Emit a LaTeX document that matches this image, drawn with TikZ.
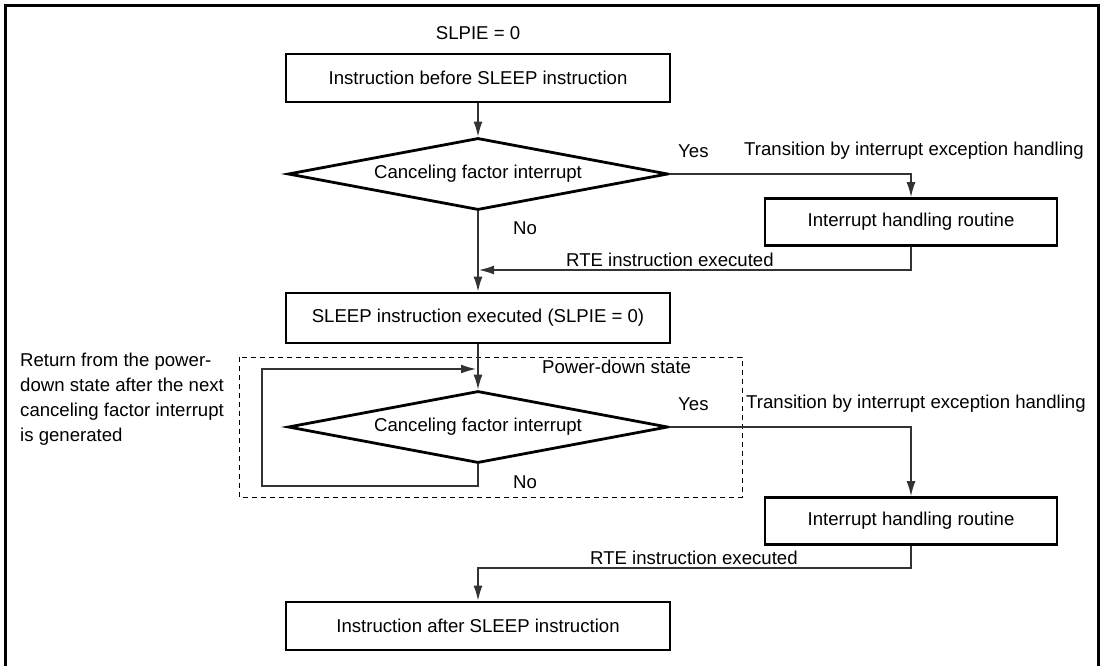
\documentclass[tikz,border=0pt]{standalone}
\usepackage{fontspec}
\setmainfont{Liberation Sans}
\usetikzlibrary{shapes.geometric,arrows.meta}

\tikzset{
  stepbox/.style={draw, line width=2.8pt, minimum width=384pt, minimum height=48pt, inner sep=0pt},
  irqbox/.style={draw, line width=2.8pt, minimum width=292pt, minimum height=47pt, inner sep=0pt},
  decision/.style={draw, diamond, line width=2.8pt, minimum width=380pt, minimum height=72pt, inner sep=0pt, aspect=5.2},
  flow/.style={line width=1.4pt, draw=black!80},
  lbl/.style={inner sep=0pt}
}

\begin{document}
\begin{tikzpicture}[x=1pt, y=-1pt, font=\fontsize{18.6}{21}\selectfont, >={Latex[length=15pt,width=9pt]}]
  \useasboundingbox (0,0) rectangle (1103,666);
  % frame (open at the bottom)
  \draw[line width=3pt] (5,666) -- (5,6) -- (1098,6) -- (1098,666);

  % power-down region
  \draw[dashed, line width=1pt, dash pattern=on 5pt off 4pt] (239,357) rectangle (742,497);

  % main column
  \node[lbl] (slpie) at (478,33) {SLPIE = 0};
  \node[stepbox] (before) at (478,78) {Instruction before SLEEP instruction};
  \node[decision] (dec1) at (478,174) {Canceling factor interrupt};
  \node[stepbox, minimum height=50pt] (sleep) at (478,318) {SLEEP instruction executed (SLPIE = 0)};
  \node[decision] (dec2) at (478,427) {Canceling factor interrupt};
  \node[stepbox] (after) at (478,626) {Instruction after SLEEP instruction};

  % interrupt routines
  \node[irqbox] (irq1) at (911,222) {Interrupt handling routine};
  \node[irqbox] (irq2) at (911,521) {Interrupt handling routine};

  % join points
  \coordinate (j1) at (478,270);
  \coordinate (j2) at (478,369);
  \coordinate (lp) at (262,486);
  \coordinate (j3) at (478,568);

  % connectors
  \draw[flow, ->] (before) -- (dec1);
  \draw[flow, ->] (dec1.east) -| (irq1.north);
  \draw[flow, ->, shorten >=1pt] (irq1.south) |- (j1);
  \draw[flow, ->] (dec1.south) -- (sleep.north);
  \draw[flow, ->] (sleep.south) -- (dec2.north);
  \draw[flow, ->, shorten >=2pt] (dec2.south) |- (lp) |- (j2);
  \draw[flow, ->] (dec2.east) -| (irq2.north);
  \draw[flow, ->] (irq2.south) |- (j3) -- (after.north);

  % labels
  \node[lbl, anchor=west] (yes1) at (678,151) {Yes};
  \node[lbl, anchor=west] (trans1) at (744,151) {Transition by interrupt exception handling};
  \node[lbl, anchor=west] (no1) at (513,228) {No};
  \node[lbl, anchor=west] (rte1) at (566,260) {RTE instruction executed};
  \node[lbl, anchor=west] (pd) at (542,367) {Power-down state};
  \node[lbl, anchor=west] (yes2) at (678,404) {Yes};
  \node[lbl, anchor=west] (trans2) at (746,404) {Transition by interrupt exception handling};
  \node[lbl, anchor=west] (no2) at (513,482) {No};
  \node[lbl, anchor=west] (rte2) at (590,558) {RTE instruction executed};
  \node[lbl, anchor=north west, align=left, font=\fontsize{18.6}{25}\selectfont] (note) at (20,353)
    {Return from the power-\\down state after the next\\canceling factor interrupt\\is generated};
\end{tikzpicture}
\end{document}
